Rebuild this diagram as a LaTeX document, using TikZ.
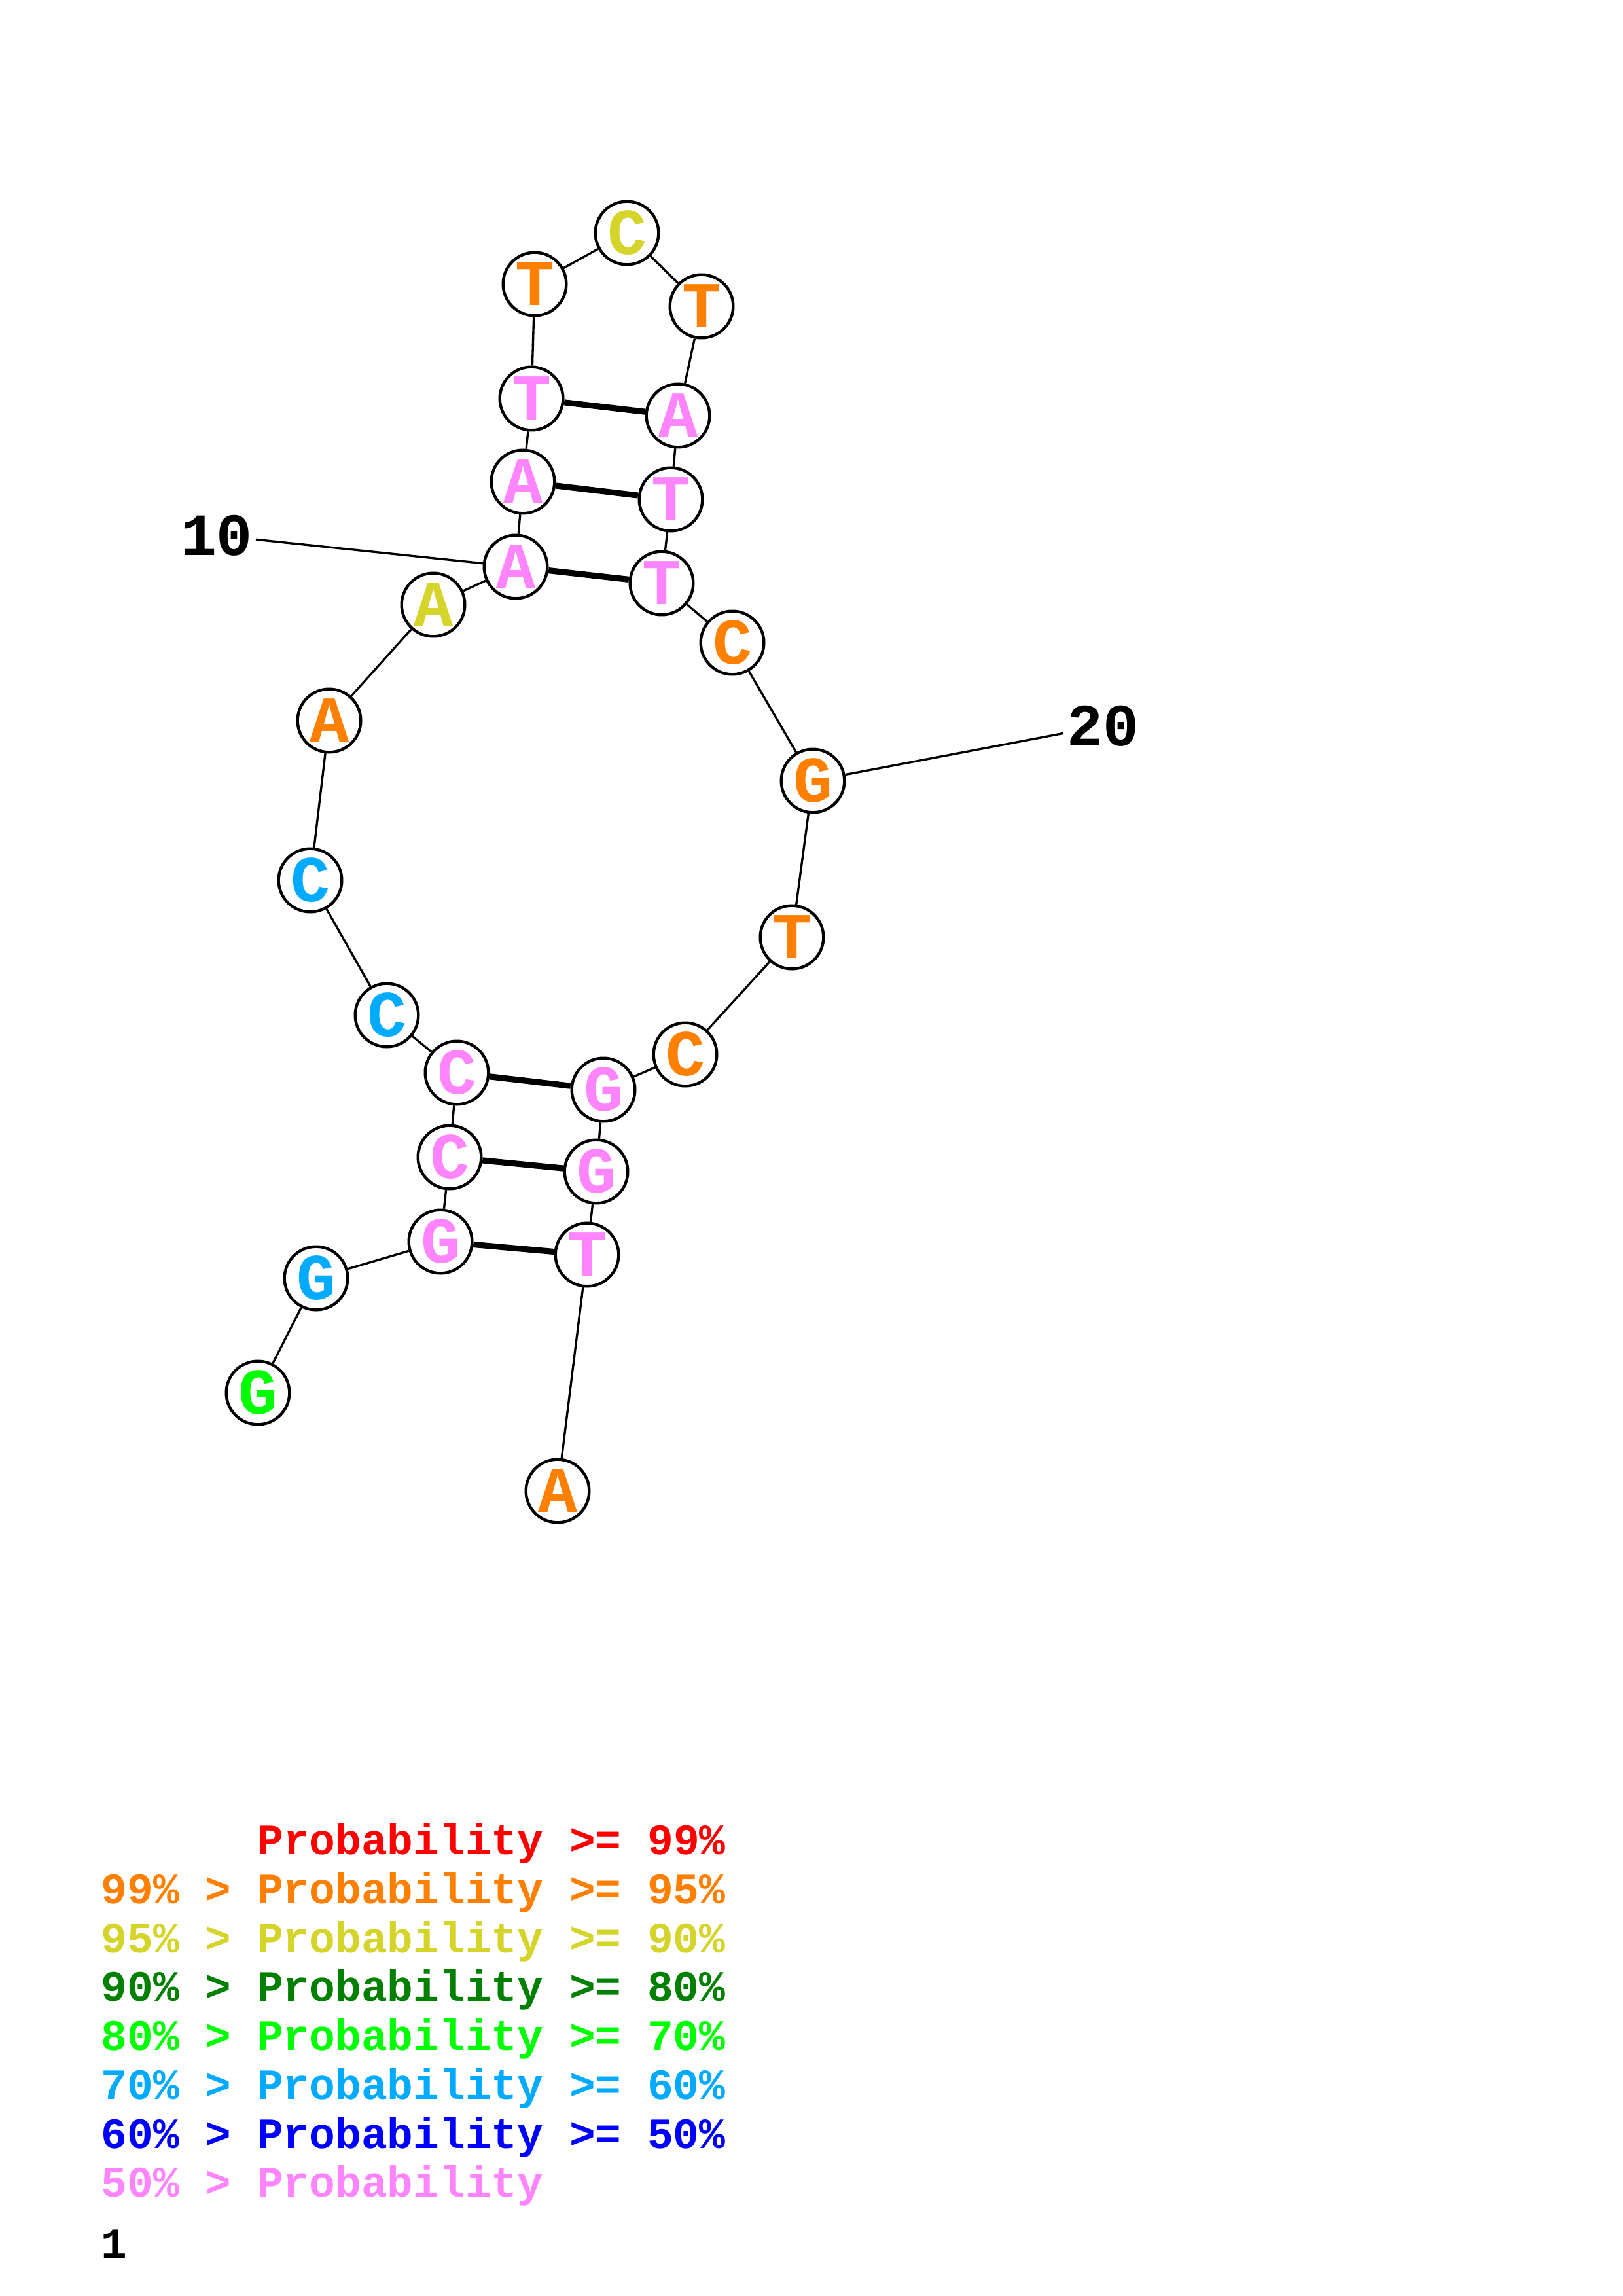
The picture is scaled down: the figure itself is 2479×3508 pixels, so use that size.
\documentclass[tikz,border=0pt]{standalone}
\usepackage{fontspec}
\setmonofont{Liberation Mono}
\definecolor{pRed}{RGB}{255,0,0}
\definecolor{pOrange}{RGB}{255,128,0}
\definecolor{pYellow}{RGB}{212,212,42}
\definecolor{pDGreen}{RGB}{0,128,0}
\definecolor{pGreen}{RGB}{0,255,0}
\definecolor{pLBlue}{RGB}{0,170,255}
\definecolor{pBlue}{RGB}{0,0,255}
\definecolor{pPink}{RGB}{255,133,255}
\tikzset{
  nt/.style={circle,draw=black,line width=1.05pt,fill=white,minimum size=23.2pt,inner sep=0pt,
    font=\fontsize{24}{24}\selectfont\ttfamily\bfseries,text=#1},
  bb/.style={line width=0.8pt},
  bp/.style={line width=2.2pt},
  numlab/.style={inner sep=1pt,font=\fontsize{22}{22}\selectfont\ttfamily\bfseries},
  leg/.style={anchor=base west,inner sep=0pt,font=\fontsize{15.9}{15.9}\selectfont\ttfamily\bfseries}
}
\begin{document}
\begin{tikzpicture}[x=0.2401pt,y=-0.2401pt]
\useasboundingbox (0,0) rectangle (2479,3508);
\node[nt=pGreen]  (n1)  at (394,2128) {G};
\node[nt=pLBlue]  (n2)  at (483,1953) {G};
\node[nt=pPink]   (n3)  at (673,1897) {G};
\node[nt=pPink]   (n4)  at (687,1768) {C};
\node[nt=pPink]   (n5)  at (698,1639) {C};
\node[nt=pLBlue]  (n6)  at (591,1551) {C};
\node[nt=pLBlue]  (n7)  at (474,1345) {C};
\node[nt=pOrange] (n8)  at (503,1101) {A};
\node[nt=pYellow] (n9)  at (662,924) {A};
\node[nt=pPink]   (n10) at (788,866) {A};
\node[nt=pPink]   (n11) at (799,736) {A};
\node[nt=pPink]   (n12) at (812,609) {T};
\node[nt=pOrange] (n13) at (817,434) {T};
\node[nt=pYellow] (n14) at (958,356) {C};
\node[nt=pOrange] (n15) at (1072,468) {T};
\node[nt=pPink]   (n16) at (1036,635) {A};
\node[nt=pPink]   (n17) at (1025,763) {T};
\node[nt=pPink]   (n18) at (1011,891) {T};
\node[nt=pOrange] (n19) at (1119,982) {C};
\node[nt=pOrange] (n20) at (1242,1193) {G};
\node[nt=pOrange] (n21) at (1210,1432) {T};
\node[nt=pOrange] (n22) at (1047,1611) {C};
\node[nt=pPink]   (n23) at (922,1665) {G};
\node[nt=pPink]   (n24) at (911,1790) {G};
\node[nt=pPink]   (n25) at (897,1917) {T};
\node[nt=pOrange] (n26) at (852,2278) {A};
\foreach \a/\b in {1/2,2/3,3/4,4/5,5/6,6/7,7/8,8/9,9/10,10/11,11/12,12/13,13/14,14/15,15/16,16/17,17/18,18/19,19/20,20/21,21/22,22/23,23/24,24/25,25/26}
  \draw[bb] (n\a) -- (n\b);
\foreach \a/\b in {3/25,4/24,5/23,10/18,11/17,12/16}
  \draw[bp] (n\a) -- (n\b);
\node[numlab] (l10) at (331,818) {10};
\node[numlab] (l20) at (1685,1109) {20};
\draw[bb] (n10) -- (l10);
\draw[bb] (n20) -- (l20);
\node[leg,text=pRed]    (g1) at (154,2833) {\ \ \ \ \ \ Probability >= 99\%};
\node[leg,text=pOrange] (g2) at (154,2908) {99\% > Probability >= 95\%};
\node[leg,text=pYellow] (g3) at (154,2983) {95\% > Probability >= 90\%};
\node[leg,text=pDGreen] (g4) at (154,3057) {90\% > Probability >= 80\%};
\node[leg,text=pGreen]  (g5) at (154,3132) {80\% > Probability >= 70\%};
\node[leg,text=pLBlue]  (g6) at (154,3207) {70\% > Probability >= 60\%};
\node[leg,text=pBlue]   (g7) at (154,3282) {60\% > Probability >= 50\%};
\node[leg,text=pPink]   (g8) at (154,3356) {50\% > Probability};
\node[leg,text=black]   (g9) at (154,3450) {1};
\end{tikzpicture}
\end{document}
